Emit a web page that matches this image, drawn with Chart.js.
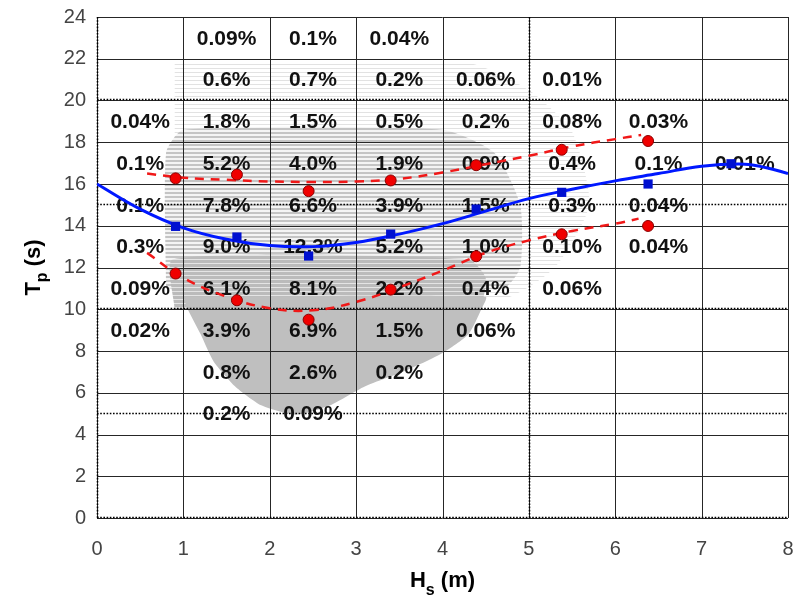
<!DOCTYPE html>
<html>
<head>
<meta charset="utf-8">
<script src="https://cdn.jsdelivr.net/npm/chart.js@4.4.1/dist/chart.umd.min.js"></script>
<style>
  html, body { margin: 0; padding: 0; background: #fff; }
  #wrap { width: 798px; height: 605px; }
</style>
</head>
<body>
<div id="wrap"><canvas id="scatterChart" width="798" height="605"></canvas></div>
<script>
// bins of the joint table (Hs width 1 m, Tp width 2 s)
const hsBinCenters = [0.5, 1.5, 2.5, 3.5, 4.5, 5.5, 6.5, 7.5];
const tpBinCenters = [23, 21, 19, 17, 15, 13, 11, 9, 7, 5];
const pctLabels = [
    [null, '0.09%', '0.1%', '0.04%', null, null, null, null],
    [null, '0.6%', '0.7%', '0.2%', '0.06%', '0.01%', null, null],
    ['0.04%', '1.8%', '1.5%', '0.5%', '0.2%', '0.08%', '0.03%', null],
    ['0.1%', '5.2%', '4.0%', '1.9%', '0.9%', '0.4%', '0.1%', '0.01%'],
    ['0.1%', '7.8%', '6.6%', '3.9%', '1.5%', '0.3%', '0.04%', null],
    ['0.3%', '9.0%', '12.3%', '5.2%', '1.0%', '0.10%', '0.04%', null],
    ['0.09%', '6.1%', '8.1%', '2.2%', '0.4%', '0.06%', null, null],
    ['0.02%', '3.9%', '6.9%', '1.5%', '0.06%', null, null, null],
    [null, '0.8%', '2.6%', '0.2%', null, null, null, null],
    [null, '0.2%', '0.09%', null, null, null, null, null]
];

// mean Tp per Hs bin and +/- band
const markerHs = [0.91, 1.62, 2.45, 3.40, 4.39, 5.38, 6.38, 7.34];
const meanTp = [13.97, 13.46, 12.55, 13.6, 14.8, 15.6, 16.0, 16.97];
const upperTp = [16.27, 16.45, 15.66, 16.17, 16.9, 17.64, 18.06];
const lowerTp = [11.71, 10.43, 9.5, 10.94, 12.54, 13.59, 13.99];

// fitted curves
const fitHs = [0, 0.5, 1, 1.5, 2, 2.5, 3, 3.5, 4, 4.5, 5, 5.5, 6, 6.5, 7, 7.5, 7.75, 8];
const fitMean = [16.0, 14.8, 13.9, 13.35, 13.05, 13.0, 13.2, 13.6, 14.1, 14.7, 15.3, 15.75, 16.15, 16.5, 16.85, 16.95, 16.78, 16.5];
const upperFitHs = [0.58, 1, 1.5, 2, 2.5, 3, 3.5, 4, 4.5, 5, 5.5, 6, 6.3];
const upperFit = [16.5, 16.3, 16.2, 16.12, 16.1, 16.12, 16.25, 16.55, 16.95, 17.35, 17.8, 18.15, 18.35];
const lowerFitHs = [0.58, 1, 1.5, 2, 2.5, 3, 3.5, 4, 4.5, 5, 5.5, 6, 6.27];
const lowerFit = [12.7, 11.5, 10.6, 10.05, 9.95, 10.35, 11.05, 11.85, 12.7, 13.3, 13.75, 14.1, 14.34];

// outline of the raw sea-state cloud
const faintHs = [0.9, 4.3, 5.0, 5.5, 5.7, 5.3, 4.7, 0.9];
const faintTp = [21.8, 21.8, 20.5, 18.5, 15.0, 12.0, 10.5, 10.5];
const stripeHs = [0.8, 0.8, 1.0, 4.0, 4.6, 4.9, 4.9, 4.7, 0.8];
const stripeTp = [11.0, 17.5, 18.6, 18.6, 17.5, 15.0, 12.0, 11.0, 11.0];
const darkHs = [0.9, 0.88, 4.3, 4.5, 4.4, 0.9];
const darkTp = [10.0, 12.4, 12.4, 11.5, 10.0, 10.0];
const denseHs = [1.0, 1.05, 1.2, 1.35, 1.6, 1.9, 2.3, 2.7, 3.1, 3.6, 4.0, 4.3, 4.45, 4.5, 1.0];
const denseTp = [10.6, 10.0, 8.8, 7.5, 6.3, 5.4, 4.95, 5.4, 6.3, 7.1, 7.9, 8.8, 10.0, 10.6, 10.6];

const xTicks = [0, 1, 2, 3, 4, 5, 6, 7, 8];
const yTicks = [0, 2, 4, 6, 8, 10, 12, 14, 16, 18, 20, 22, 24];
const dottedX = [0, 5];
const dottedY = [0, 5, 10, 15, 20];

function pts(xs, ys) {
    return xs.map((x, i) => ({ x: x, y: ys[i] }));
}

function stripes(line, gap, color, bg) {
    const c = document.createElement('canvas');
    c.width = 4;
    c.height = line + gap;
    const g = c.getContext('2d');
    if (bg) { g.fillStyle = bg; g.fillRect(0, 0, 4, line + gap); }
    g.fillStyle = color;
    g.fillRect(0, 0, 4, line);
    return g.createPattern(c, 'repeat');
}

function cloudSet(xs, ys, fillStyle, order) {
    return {
        data: pts(xs, ys),
        showLine: true,
        fill: 'shape',
        backgroundColor: fillStyle,
        borderWidth: 0,
        borderColor: 'rgba(0,0,0,0)',
        pointRadius: 0,
        tension: 0.2,
        order: order
    };
}

// grid, dotted guides and bin percentages go between the cloud and the curves
const tablePlugin = {
    id: 'table',
    afterDatasetDraw(chart, args) {
        if (chart.data.datasets[args.index].order !== 10) return;
        const ctx = chart.ctx;
        const xs = chart.scales.x, ys = chart.scales.y;
        const a = chart.chartArea;
        ctx.save();
        ctx.strokeStyle = '#262626';
        ctx.lineWidth = 1;
        xTicks.forEach(v => {
            const px = Math.round(xs.getPixelForValue(v)) + 0.5;
            ctx.beginPath(); ctx.moveTo(px, a.top); ctx.lineTo(px, a.bottom); ctx.stroke();
        });
        yTicks.forEach(v => {
            const py = Math.round(ys.getPixelForValue(v)) + 0.5;
            ctx.beginPath(); ctx.moveTo(a.left, py); ctx.lineTo(a.right, py); ctx.stroke();
        });
        ctx.strokeStyle = '#000';
        ctx.lineWidth = 1.6;
        ctx.setLineDash([1.6, 1.6]);
        dottedX.forEach(v => {
            const px = Math.round(xs.getPixelForValue(v)) + 0.5;
            ctx.beginPath(); ctx.moveTo(px, a.top); ctx.lineTo(px, a.bottom); ctx.stroke();
        });
        dottedY.forEach(v => {
            const py = Math.round(ys.getPixelForValue(v)) - 0.5;
            ctx.beginPath(); ctx.moveTo(a.left, py); ctx.lineTo(a.right, py); ctx.stroke();
        });
        ctx.setLineDash([]);
        ctx.fillStyle = '#111';
        ctx.font = 'bold 21px "Liberation Sans", Arial, sans-serif';
        ctx.textAlign = 'center';
        ctx.textBaseline = 'middle';
        pctLabels.forEach((row, r) => {
            row.forEach((txt, c) => {
                if (!txt) return;
                ctx.fillText(txt, xs.getPixelForValue(hsBinCenters[c]), ys.getPixelForValue(tpBinCenters[r]) + 1);
            });
        });
        ctx.restore();
    },
    afterDraw(chart) {
        const ctx = chart.ctx;
        const a = chart.chartArea;
        ctx.save();
        ctx.fillStyle = '#000';
        ctx.textBaseline = 'alphabetic';
        // x title: Hs (m)
        const big = 'bold 22px "Liberation Sans", Arial, sans-serif';
        const small = 'bold 16px "Liberation Sans", Arial, sans-serif';
        ctx.font = big;
        const wH = ctx.measureText('H').width;
        const wRest = ctx.measureText(' (m)').width;
        ctx.font = small;
        const wS = ctx.measureText('s').width;
        let x0 = (a.left + a.right) / 2 - (wH + wS + wRest) / 2;
        const by = 587;
        ctx.textAlign = 'left';
        ctx.font = big; ctx.fillText('H', x0, by);
        ctx.font = small; ctx.fillText('s', x0 + wH, by + 8);
        ctx.font = big; ctx.fillText(' (m)', x0 + wH + wS, by);
        // y title: Tp (s)
        ctx.translate(32, (a.top + a.bottom) / 2);
        ctx.rotate(-Math.PI / 2);
        ctx.font = big;
        const wT = ctx.measureText('T').width;
        const wR2 = ctx.measureText(' (s)').width;
        ctx.font = small;
        const wP = ctx.measureText('p').width;
        x0 = -(wT + wP + wR2) / 2;
        ctx.font = big; ctx.fillText('T', x0, 8);
        ctx.font = small; ctx.fillText('p', x0 + wT, 15);
        ctx.font = big; ctx.fillText(' (s)', x0 + wT + wP, 8);
        ctx.restore();
    }
};

document.addEventListener('DOMContentLoaded', () => {
    const ctx = document.getElementById('scatterChart').getContext('2d');

    const faintFill = stripes(1, 3, '#e2e2e2', null);
    const stripeFill = stripes(2, 2, '#c4c4c4', '#f4f4f4');
    const darkFill = stripes(3, 1, '#bbbbbb', '#e4e4e4');

    const config = {
        type: 'scatter',
        data: {
            datasets: [
                {
                    data: pts(markerHs.slice(0, upperTp.length), upperTp),
                    pointStyle: 'circle',
                    pointRadius: 5.5,
                    backgroundColor: '#f00000',
                    borderColor: '#8a0000',
                    borderWidth: 1,
                    order: 0
                },
                {
                    data: pts(markerHs.slice(0, lowerTp.length), lowerTp),
                    pointStyle: 'circle',
                    pointRadius: 5.5,
                    backgroundColor: '#f00000',
                    borderColor: '#8a0000',
                    borderWidth: 1,
                    order: 0
                },
                {
                    data: pts(markerHs, meanTp),
                    pointStyle: 'rect',
                    pointRadius: 6.5,
                    backgroundColor: '#0010d0',
                    borderColor: '#0010d0',
                    borderWidth: 0,
                    order: 0
                },
                {
                    data: pts(fitHs, fitMean),
                    showLine: true,
                    borderColor: '#0018ff',
                    borderWidth: 3,
                    pointRadius: 0,
                    tension: 0.4,
                    order: 5
                },
                {
                    data: pts(upperFitHs, upperFit),
                    showLine: true,
                    borderColor: '#f01818',
                    borderWidth: 2.5,
                    borderDash: [9, 7],
                    pointRadius: 0,
                    tension: 0.4,
                    order: 5
                },
                {
                    data: pts(lowerFitHs, lowerFit),
                    showLine: true,
                    borderColor: '#f01818',
                    borderWidth: 2.5,
                    borderDash: [9, 7],
                    pointRadius: 0,
                    tension: 0.4,
                    order: 5
                },
                cloudSet(faintHs, faintTp, faintFill, 13),
                cloudSet(stripeHs, stripeTp, stripeFill, 12),
                cloudSet(darkHs, darkTp, darkFill, 11),
                cloudSet(denseHs, denseTp, '#bfbfbf', 10)
            ]
        },
        options: {
            responsive: false,
            animation: false,
            layout: { padding: { top: 17, right: 10, left: 0, bottom: 0 } },
            plugins: {
                legend: { display: false },
                tooltip: { enabled: false }
            },
            scales: {
                x: {
                    type: 'linear',
                    min: 0,
                    max: 8,
                    afterBuildTicks: s => { s.ticks = xTicks.map(v => ({ value: v })); },
                    afterFit: s => { s.height = 87; s.paddingLeft = 0; s.paddingRight = 0; },
                    grid: { display: false },
                    border: { display: false },
                    ticks: {
                        color: '#444',
                        padding: 11,
                        font: { family: '"Liberation Sans", Arial, sans-serif', size: 20 }
                    }
                },
                y: {
                    type: 'linear',
                    min: 0,
                    max: 24,
                    afterBuildTicks: s => { s.ticks = yTicks.map(v => ({ value: v })); },
                    afterFit: s => { s.width = 97; s.paddingTop = 0; s.paddingBottom = 0; },
                    grid: { display: false },
                    border: { display: false },
                    ticks: {
                        color: '#444',
                        padding: 3,
                        font: { family: '"Liberation Sans", Arial, sans-serif', size: 20 }
                    }
                }
            }
        },
        plugins: [tablePlugin]
    };

    new Chart(ctx, config);
});
</script>
</body>
</html>
